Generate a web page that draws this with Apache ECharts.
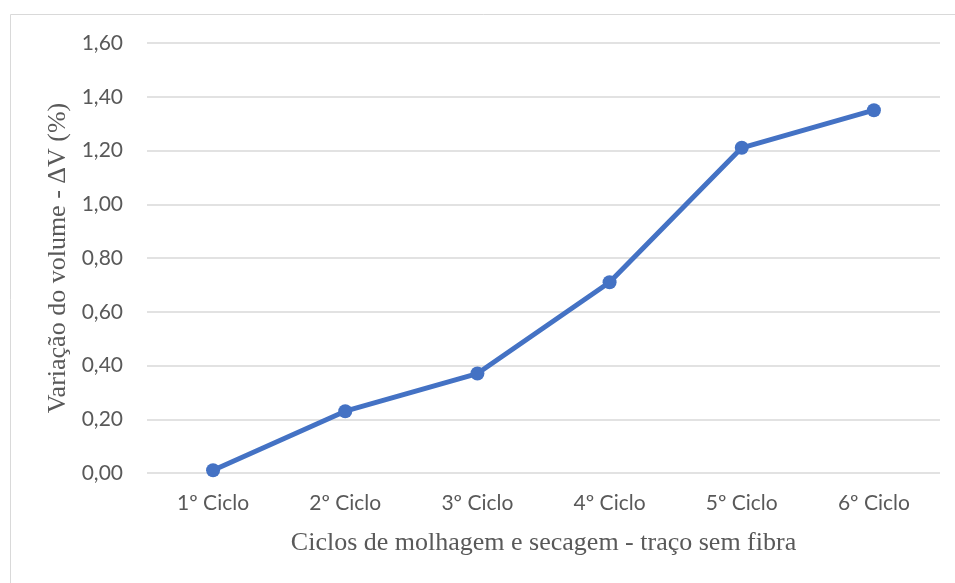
<!DOCTYPE html>
<html><head><meta charset="utf-8">
<script src="https://cdn.jsdelivr.net/npm/echarts@6/dist/echarts.min.js"></script>
<style>html,body{margin:0;padding:0;background:#fff}#c{width:955px;height:583px}</style>
</head><body><div id="c"></div>
<script>
var categories = ["1º Ciclo","2º Ciclo","3º Ciclo","4º Ciclo","5º Ciclo","6º Ciclo"];
var values = [0.01, 0.23, 0.37, 0.71, 1.21, 1.35];
var xTitle = "Ciclos de molhagem e secagem - traço sem fibra";
var yTitle = "Variação do volume - ΔV (%)";

var chart = echarts.init(document.getElementById('c'));
chart.setOption({
  animation: false,
  graphic: [{type:'rect', shape:{x:10.5,y:14.5,width:960,height:600}, style:{fill:'none',stroke:'#d9d9d9',lineWidth:1}}],
  grid: {left:147, right:15, top:43, bottom:110},
  xAxis: {
    type:'category', data:categories, boundaryGap:true,
    axisLine:{show:false}, axisTick:{show:false},
    axisLabel:{color:'#595959', fontFamily:'Lato', fontSize:21, margin:20},
    name:xTitle, nameLocation:'middle', nameGap:57,
    nameTextStyle:{color:'#595959', fontFamily:'Liberation Serif', fontSize:26}
  },
  yAxis: {
    type:'value', min:0, max:1.6, interval:0.2,
    axisLine:{show:false}, axisTick:{show:false},
    splitLine:{lineStyle:{color:'#d9d9d9', width:1.5}},
    axisLabel:{color:'#595959', fontFamily:'Lato', fontSize:21, margin:24,
      formatter:function(v){return v.toFixed(2).replace('.',',');}},
    name:yTitle, nameLocation:'middle', nameGap:72,
    nameTextStyle:{color:'#595959', fontFamily:'Liberation Serif', fontSize:26}
  },
  series: [{
    type:'line', data:values, symbol:'circle', symbolSize:14,
    lineStyle:{color:'#4472C4', width:5}, itemStyle:{color:'#4472C4'}
  }]
});
</script></body></html>
